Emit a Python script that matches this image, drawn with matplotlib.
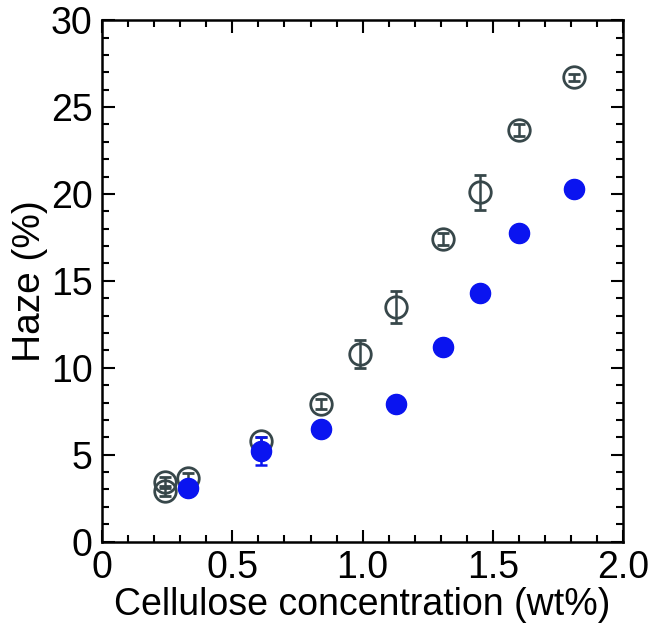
import matplotlib
matplotlib.use("Agg")
import matplotlib.pyplot as plt
from matplotlib.ticker import MultipleLocator

plt.rcParams['font.family'] = ['Liberation Sans', 'DejaVu Sans']

# open circles (with error bars)
x_open = [0.24, 0.24, 0.33, 0.61, 0.84, 0.99, 1.13, 1.31, 1.45, 1.60, 1.81]
y_open = [3.4, 2.9, 3.65, 5.8, 7.9, 10.8, 13.5, 17.4, 20.1, 23.7, 26.7]
e_open = [0.3, 0.3, 0.3, 0.2, 0.3, 0.8, 0.9, 0.35, 1.0, 0.35, 0.2]

# filled blue circles
x_fill = [0.33, 0.61, 0.84, 1.13, 1.31, 1.45, 1.60, 1.81]
y_fill = [3.1, 5.2, 6.5, 7.9, 11.2, 14.3, 17.75, 20.3]
e_fill = [0.2, 0.8, 0.2, 0.2, 0.2, 0.2, 0.2, 0.2]

xticks = [0, 0.5, 1.0, 1.5, 2.0]
xtick_labels = ['0', '0.5', '1.0', '1.5', '2.0']

fig = plt.figure(figsize=(6.51, 6.29), dpi=100)
ax = fig.add_axes([0.157, 0.139, 0.8, 0.829])

gray = '#37474a'
ax.errorbar(x_open, y_open, yerr=e_open, fmt='o', ms=15.5, mfc='none', mec=gray,
            mew=2, ecolor=gray, elinewidth=1.8, capsize=4, capthick=1.8, zorder=2)
ax.errorbar(x_fill, y_fill, yerr=e_fill, fmt='o', ms=14.5, mfc='#0a14f0', mec='#0a14f0',
            ecolor='#0a14f0', elinewidth=1.8, capsize=4, capthick=1.8, zorder=3)

ax.set_xlim(0, 2.0)
ax.set_ylim(0, 30)
ax.set_xticks(xticks)
ax.set_xticklabels(xtick_labels)
ax.xaxis.set_minor_locator(MultipleLocator(0.1))
ax.yaxis.set_major_locator(MultipleLocator(5))
ax.yaxis.set_minor_locator(MultipleLocator(1))

ax.tick_params(which='both', direction='in', top=True, right=True, width=1.5, labelsize=27)
ax.tick_params(which='major', length=9)
ax.tick_params(which='minor', length=5)
ax.tick_params(axis='x', which='major', pad=6)
ax.tick_params(axis='y', which='major', pad=7)
for s in ax.spines.values():
    s.set_linewidth(1.8)

ax.set_xlabel("Cellulose concentration (wt%)", fontsize=27, labelpad=1)
ax.set_ylabel("Haze (%)", fontsize=28, labelpad=2)

fig.savefig("out.png", dpi=100)
